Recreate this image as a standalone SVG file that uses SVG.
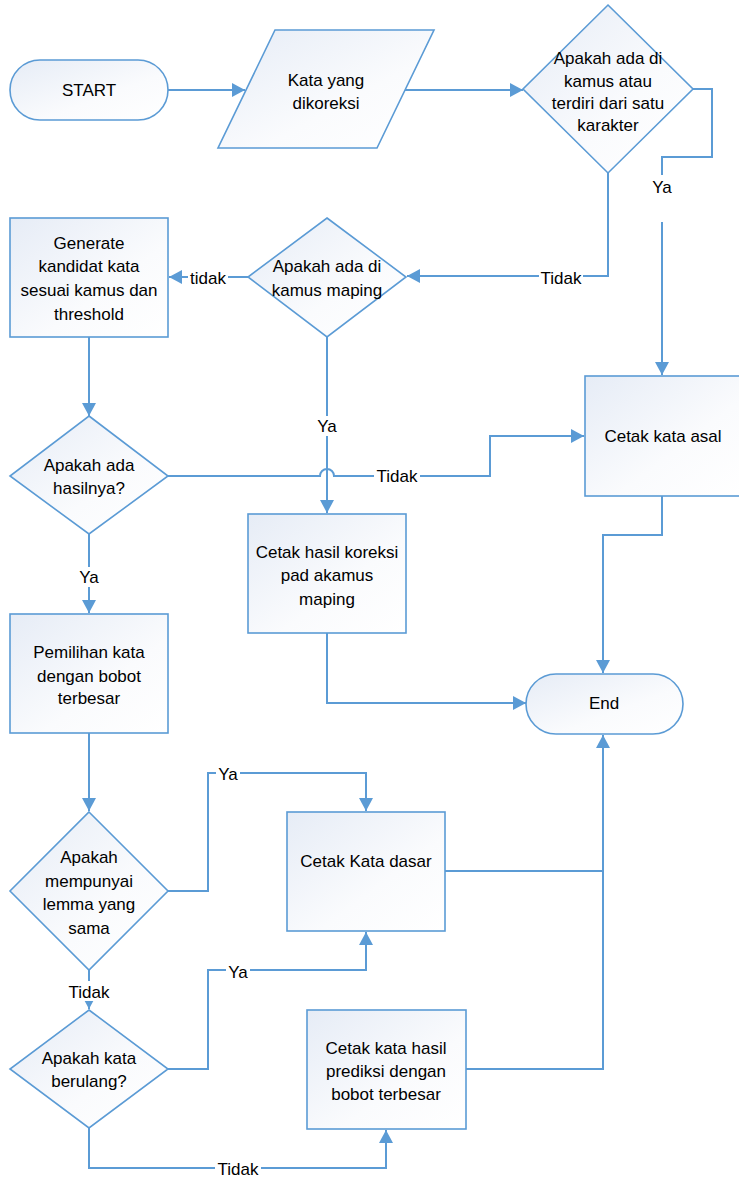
<svg xmlns="http://www.w3.org/2000/svg" width="739" height="1179" viewBox="0 0 739 1179">
<defs>
<linearGradient id="g" x1="0" y1="0" x2="1" y2="1">
<stop offset="0" stop-color="#E6ECF6"/>
<stop offset="0.6" stop-color="#FAFBFD"/>
<stop offset="1" stop-color="#FFFFFF"/>
</linearGradient>
<marker id="a" markerUnits="userSpaceOnUse" markerWidth="14" markerHeight="14" refX="13" refY="7" orient="auto">
<path d="M0,0 L13,7 L0,14 z" fill="#5B9BD5"/>
</marker>
</defs>
<style>
.s{fill:url(#g);stroke:#5B9BD5;stroke-width:1.6}
.c{fill:none;stroke:#5B9BD5;stroke-width:2}
text{font-family:"Liberation Sans",Arial,sans-serif;font-size:17px;fill:#000;text-anchor:middle}
.lb{fill:#fff}
</style>
<rect width="739" height="1179" fill="#fff"/>

<g id="connectors">
<path class="c" d="M168,90 H245" marker-end="url(#a)"/>
<path class="c" d="M405,90 H523" marker-end="url(#a)"/>
<path class="c" d="M693,89 H712 V157 H662 V175"/>
<path class="c" d="M662,222 V375" marker-end="url(#a)"/>
<path class="c" d="M608,173 V276 H407" marker-end="url(#a)"/>
<path class="c" d="M248,277 H169" marker-end="url(#a)"/>
<path class="c" d="M89,337 V416" marker-end="url(#a)"/>
<path class="c" d="M168,476 H320 A7,7 0 0 1 334,476 H490 V436 H584" marker-end="url(#a)"/>
<path class="c" d="M327,337 V513" marker-end="url(#a)"/>
<path class="c" d="M327,633 V703 H526" marker-end="url(#a)"/>
<path class="c" d="M662,496 V535 H603 V673" marker-end="url(#a)"/>
<path class="c" d="M89,534 V613" marker-end="url(#a)"/>
<path class="c" d="M89,733 V811" marker-end="url(#a)"/>
<path class="c" d="M168,891 H208 V773 H366 V811" marker-end="url(#a)"/>
<path class="c" d="M445,871 H603"/>
<path class="c" d="M466,1069 H603 V735" marker-end="url(#a)"/>
<path class="c" d="M89,970 V1009" marker-end="url(#a)"/>
<path class="c" d="M168,1069 H208 V970 H366 V932" marker-end="url(#a)"/>
<path class="c" d="M89,1128 V1168 H386 V1130" marker-end="url(#a)"/>
</g>

<g id="labels">
<rect class="lb" x="650" y="176" width="24" height="22"/>
<text x="662" y="193">Ya</text>
<rect class="lb" x="539" y="267" width="44" height="20"/>
<text x="561" y="284">Tidak</text>
<rect class="lb" x="188" y="267" width="40" height="20"/>
<text x="208" y="284">tidak</text>
<rect class="lb" x="374" y="466" width="46" height="20"/>
<text x="397" y="482">Tidak</text>
<rect class="lb" x="315" y="416" width="24" height="20"/>
<text x="327" y="432">Ya</text>
<rect class="lb" x="77" y="567" width="24" height="20"/>
<text x="89" y="583">Ya</text>
<rect class="lb" x="216" y="764" width="24" height="20"/>
<text x="228" y="780">Ya</text>
<rect class="lb" x="66" y="981" width="46" height="20"/>
<text x="89" y="998">Tidak</text>
<rect class="lb" x="226" y="962" width="24" height="20"/>
<text x="238" y="978">Ya</text>
<rect class="lb" x="215" y="1159" width="46" height="20"/>
<text x="238" y="1175">Tidak</text>
</g>

<g id="start">
<rect class="s" x="10" y="60" width="158" height="60" rx="30" ry="30"/>
<text x="89" y="96">START</text>
</g>
<g id="input">
<polygon class="s" points="275,30 434,30 377,148 218,148"/>
<text x="326" y="86">Kata yang</text>
<text x="326" y="109">dikoreksi</text>
</g>
<g id="d1">
<polygon class="s" points="608,5 693,89 608,173 523,89"/>
<text x="608" y="64">Apakah ada di</text>
<text x="608" y="87">kamus atau</text>
<text x="608" y="109">terdiri dari satu</text>
<text x="608" y="131">karakter</text>
</g>
<g id="d2">
<polygon class="s" points="327,218 406,277 327,337 248,277"/>
<text x="327" y="272">Apakah ada di</text>
<text x="327" y="296">kamus maping</text>
</g>
<g id="generate">
<rect class="s" x="10" y="218" width="158" height="119"/>
<text x="89" y="249">Generate</text>
<text x="89" y="272">kandidat kata</text>
<text x="89" y="296">sesuai kamus dan</text>
<text x="89" y="320">threshold</text>
</g>
<g id="d3">
<polygon class="s" points="89,416 168,476 89,534 10,476"/>
<text x="89" y="471">Apakah ada</text>
<text x="89" y="494">hasilnya?</text>
</g>
<g id="asal">
<rect class="s" x="585" y="376" width="156" height="120"/>
<text x="663" y="442">Cetak kata asal</text>
</g>
<g id="mapping">
<rect class="s" x="248" y="514" width="158" height="119"/>
<text x="327" y="558">Cetak hasil koreksi</text>
<text x="327" y="581">pad akamus</text>
<text x="327" y="605">maping</text>
</g>
<g id="end">
<rect class="s" x="526" y="674" width="157" height="60" rx="30" ry="30"/>
<text x="604" y="709">End</text>
</g>
<g id="pemilihan">
<rect class="s" x="10" y="614" width="158" height="119"/>
<text x="89" y="658">Pemilihan kata</text>
<text x="89" y="682">dengan bobot</text>
<text x="89" y="704">terbesar</text>
</g>
<g id="d4">
<polygon class="s" points="89,812 168,891 89,970 10,891"/>
<text x="89" y="863">Apakah</text>
<text x="89" y="887">mempunyai</text>
<text x="89" y="910">lemma yang</text>
<text x="89" y="934">sama</text>
</g>
<g id="dasar">
<rect class="s" x="287" y="812" width="158" height="119"/>
<text x="366" y="867">Cetak Kata dasar</text>
</g>
<g id="d5">
<polygon class="s" points="89,1010 168,1069 89,1128 10,1069"/>
<text x="89" y="1064">Apakah kata</text>
<text x="89" y="1087">berulang?</text>
</g>
<g id="prediksi">
<rect class="s" x="307" y="1010" width="159" height="119"/>
<text x="386" y="1054">Cetak kata hasil</text>
<text x="386" y="1077">prediksi dengan</text>
<text x="386" y="1100">bobot terbesar</text>
</g>
</svg>
